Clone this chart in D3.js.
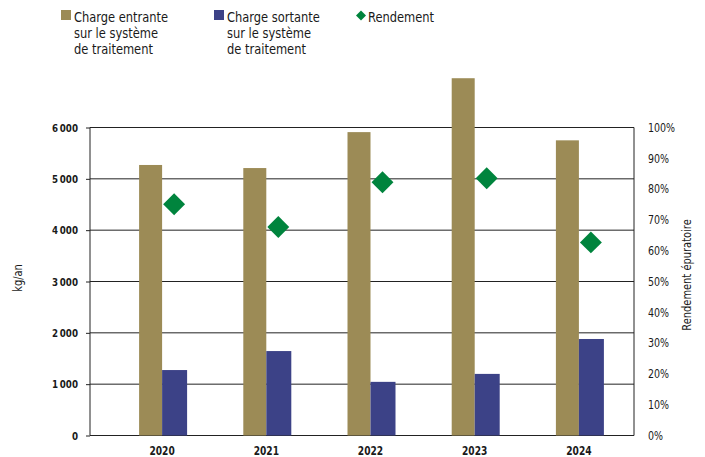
<!DOCTYPE html>
<html>
<head>
<meta charset="utf-8">
<script src="https://cdn.jsdelivr.net/npm/d3@7"></script>
<style>
  body { margin: 0; background: #fff; }
  text { font-family: "Liberation Sans Narrow", "DejaVu Sans Condensed", "Roboto", sans-serif; fill: #1a1a1a; }
</style>
</head>
<body>
<div id="chart"></div>
<script>
// data
const years = ["2020", "2021", "2022", "2023", "2024"];
const chargeEntrante = [5270, 5210, 5910, 6960, 5750]; // kg/an
const chargeSortante = [1275, 1645, 1045, 1200, 1880]; // kg/an
const rendement = [75.1, 67.7, 82.2, 83.5, 62.7]; // %
const leftTicks = [0, 1000, 2000, 3000, 4000, 5000, 6000];
const rightTicks = [0, 10, 20, 30, 40, 50, 60, 70, 80, 90, 100];

const width = 705, height = 457;
const plotLeft = 90, plotRight = 634, plotTop = 127.5, plotBottom = 435.5;
const squeeze = 0.88; // the original font is narrower than what we have

const svg = d3.select("#chart").append("svg")
    .attr("width", width)
    .attr("height", height);

const x = d3.scaleBand().domain(years).range([110, 631]).padding(0);
const yLeft = d3.scaleLinear().domain([0, 6000]).range([plotBottom, plotTop]);
const yRight = d3.scaleLinear().domain([0, 100]).range([plotBottom, plotTop]);

const fmtThousands = d => d3.format(",")(d).replace(/,/g, "\u2009");

// make text narrower, keeping its anchor point
function narrow(sel) {
    sel.each(function () {
        const t = d3.select(this);
        const tx = +t.attr("x") || 0;
        t.attr("x", tx / squeeze).attr("transform", `scale(${squeeze},1)`);
    });
}

// gridlines
svg.append("g").selectAll("line")
    .data(leftTicks)
    .enter().append("line")
    .attr("x1", plotLeft).attr("x2", plotRight)
    .attr("y1", d => yLeft(d)).attr("y2", d => yLeft(d))
    .attr("stroke", "#222").attr("stroke-width", 1);

const gold = "#9c8b56", blue = "#3c4287", green = "#00843d";
const goldW = 23, blueW = 25;
const center = d => x(d) + x.bandwidth() / 2;

// bars - charge entrante
svg.append("g").selectAll("rect")
    .data(years)
    .enter().append("rect")
    .attr("x", d => center(d) - goldW)
    .attr("y", (d, i) => yLeft(chargeEntrante[i]))
    .attr("width", goldW)
    .attr("height", (d, i) => plotBottom - yLeft(chargeEntrante[i]))
    .attr("fill", gold);

// bars - charge sortante
svg.append("g").selectAll("rect")
    .data(years)
    .enter().append("rect")
    .attr("x", d => center(d))
    .attr("y", (d, i) => yLeft(chargeSortante[i]))
    .attr("width", blueW)
    .attr("height", (d, i) => plotBottom - yLeft(chargeSortante[i]))
    .attr("fill", blue);

// left / right borders
svg.append("line").attr("x1", plotLeft).attr("x2", plotLeft)
    .attr("y1", plotTop).attr("y2", plotBottom).attr("stroke", "#222");
svg.append("line").attr("x1", plotRight).attr("x2", plotRight)
    .attr("y1", plotTop).attr("y2", plotBottom).attr("stroke", "#222");

// left axis
const yAxisLeft = d3.axisLeft(yLeft).tickValues(leftTicks).tickSize(4).tickPadding(8)
    .tickFormat(fmtThousands);
const gL = svg.append("g").attr("transform", `translate(${plotLeft},0)`).call(yAxisLeft);
gL.select(".domain").remove();
gL.selectAll(".tick line").attr("stroke", "#222");
gL.selectAll("text").attr("font-size", 11).attr("font-weight", "bold")
    .attr("font-family", "Liberation Sans Narrow, DejaVu Sans Condensed, sans-serif")
    .call(narrow);

// right axis
const yAxisRight = d3.axisRight(yRight).tickValues(rightTicks).tickSize(0).tickPadding(14)
    .tickFormat(d => d + "%");
const gR = svg.append("g").attr("transform", `translate(${plotRight},0)`).call(yAxisRight);
gR.select(".domain").remove();
gR.selectAll("text").attr("font-size", 12)
    .attr("font-family", "Liberation Sans Narrow, DejaVu Sans Condensed, sans-serif")
    .call(narrow);

// bottom axis
const xAxis = d3.axisBottom(x).tickSize(0).tickPadding(11);
const gX = svg.append("g").attr("transform", `translate(0,${plotBottom})`).call(xAxis);
gX.select(".domain").remove();
gX.selectAll("text").attr("font-size", 11.5).attr("font-weight", "bold")
    .attr("font-family", "Liberation Sans Narrow, DejaVu Sans Condensed, sans-serif")
    .call(narrow);

// rendement diamonds
const diamond = d3.symbol().type(d3.symbolSquare).size(240);
svg.append("g").selectAll("path")
    .data(years)
    .enter().append("path")
    .attr("d", diamond)
    .attr("transform", (d, i) => `translate(${center(d) + 12},${yRight(rendement[i])}) rotate(45)`)
    .attr("fill", green);

// axis titles
svg.append("text")
    .attr("transform", `translate(22,278) rotate(-90) scale(${squeeze},1)`)
    .attr("text-anchor", "middle")
    .attr("font-size", 12.5)
    .text("kg/an");

svg.append("text")
    .attr("transform", `translate(691,275) rotate(-90) scale(${squeeze},1)`)
    .attr("text-anchor", "middle")
    .attr("font-size", 12.5)
    .text("Rendement épuratoire");

// legend
const legend = svg.append("g");
const legendItems = [
    { x: 61, color: gold, lines: ["Charge entrante", "sur le système", "de traitement"] },
    { x: 214, color: blue, lines: ["Charge sortante", "sur le système", "de traitement"] }
];
legendItems.forEach(item => {
    legend.append("rect")
        .attr("x", item.x).attr("y", 10)
        .attr("width", 10).attr("height", 10)
        .attr("fill", item.color);
    const t = legend.append("text")
        .attr("transform", `translate(${item.x + 13},21.5) scale(${squeeze},1)`)
        .attr("font-size", 14.5);
    item.lines.forEach((l, i) => {
        t.append("tspan").attr("x", 0).attr("dy", i === 0 ? 0 : 16.5).text(l);
    });
});
legend.append("path")
    .attr("d", d3.symbol().type(d3.symbolSquare).size(50))
    .attr("transform", "translate(361,15.5) rotate(45)")
    .attr("fill", green);
legend.append("text")
    .attr("transform", `translate(368,21.5) scale(${squeeze},1)`)
    .attr("font-size", 14.5)
    .text("Rendement");
</script>
</body>
</html>
